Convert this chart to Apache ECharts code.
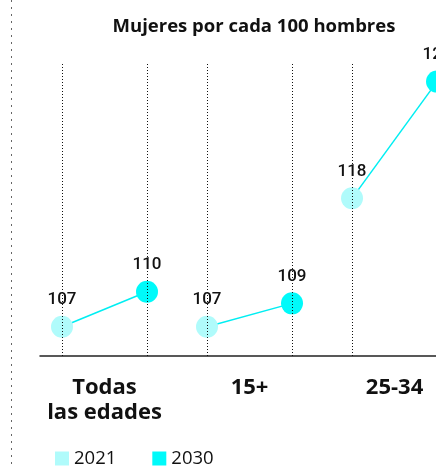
<!DOCTYPE html>
<html>
<head>
<meta charset="utf-8">
<script src="https://cdn.jsdelivr.net/npm/echarts@6/dist/echarts.min.js"></script>
<style>
  html, body { margin: 0; padding: 0; overflow: hidden; background: #fff; }
  #main { width: 520px; height: 467px; }
</style>
</head>
<body>
<div id="main"></div>
<script>
// datos
var categorias = ['Todas\nlas edades', '15+', '25-34'];
var anios = ['2021', '2030'];
var valores2021 = [107, 107, 118];
var valores2030 = [110, 109, 128];

var colores = ['#b0fbfb', '#00fafa'];
var paso = 1.706; // separacion entre grupos (en unidades del eje x)

var myChart = echarts.init(document.getElementById('main'));

var pts2021 = [], pts2030 = [], lineas = [], marcas = [], centros = [];
for (var i = 0; i < categorias.length; i++) {
    var x0 = i * paso, x1 = i * paso + 1;
    pts2021.push([x0, valores2021[i]]);
    pts2030.push([x1, valores2030[i]]);
    marcas.push({xAxis: x0}, {xAxis: x1});
    centros.push(x0 + 0.5);
    lineas.push({
        type: 'line',
        data: [[x0, valores2021[i]], [x1, valores2030[i]]],
        symbol: 'none',
        silent: true,
        z: 1,
        lineStyle: {color: '#00eef2', width: 1.5}
    });
}

var etiqueta = {
    show: true,
    position: 'top',
    distance: 7,
    fontFamily: 'Roboto',
    fontWeight: 500,
    fontSize: 17,
    color: '#111',
    formatter: function (p) { return p.value[1]; }
};

var option = {
    animation: false,
    title: {
        text: 'Mujeres por cada 100 hombres',
        left: 249,
        textAlign: 'center',
        top: 12,
        textStyle: {fontFamily: 'Open Sans', fontWeight: 'bold', fontSize: 18.5, color: '#111'}
    },
    legend: {
        data: anios,
        left: 50,
        top: 444,
        icon: 'rect',
        itemWidth: 14,
        itemHeight: 14,
        itemGap: 36,
        textStyle: {fontFamily: 'Open Sans', fontSize: 18.5, color: '#111'}
    },
    grid: {left: 40, right: 0, top: 62, bottom: 111},
    xAxis: {
        type: 'value',
        min: -22 / 85,
        max: 458 / 85,
        splitLine: {show: false},
        axisTick: {show: false},
        axisLine: {show: true, onZero: false, lineStyle: {color: '#222', width: 1.5}},
        axisLabel: {
            customValues: centros,
            margin: 19,
            fontFamily: 'Open Sans',
            fontWeight: 'bold',
            fontSize: 22,
            lineHeight: 25,
            color: '#111',
            verticalAlign: 'top',
            formatter: function (v) {
                var k = Math.round((v - 0.5) / paso);
                return categorias[k] || '';
            }
        }
    },
    yAxis: {
        type: 'value',
        min: 104.49,
        max: 129.68,
        show: false
    },
    graphic: [{
        type: 'line',
        shape: {x1: 11.5, y1: 0, x2: 11.5, y2: 467},
        style: {stroke: '#666', lineWidth: 1, lineDash: [2, 5]},
        silent: true
    }],
    series: lineas.concat([
        {
            name: '2021',
            type: 'scatter',
            data: pts2021,
            symbolSize: 22,
            z: 3,
            itemStyle: {color: colores[0], opacity: 1},
            label: etiqueta,
            markLine: {
                silent: true,
                symbol: 'none',
                label: {show: false},
                lineStyle: {type: [1, 2], color: '#111', width: 1},
                data: marcas
            }
        },
        {
            name: '2030',
            type: 'scatter',
            data: pts2030,
            symbolSize: 22,
            z: 3,
            itemStyle: {color: colores[1], opacity: 1},
            label: etiqueta
        }
    ])
};

myChart.setOption(option);
</script>
</body>
</html>
